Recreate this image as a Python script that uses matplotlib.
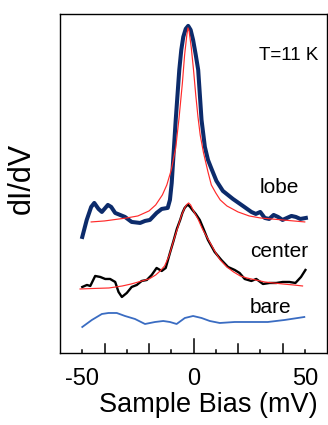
import matplotlib
matplotlib.use('Agg')
import matplotlib.pyplot as plt
import matplotlib.transforms as mtransforms

plt.rcParams['font.family'] = ['Liberation Sans', 'DejaVu Sans']

# dI/dV spectra (arbitrary units, curves offset vertically)
lobe_x = [-50, -48, -46, -44.6, -42.7, -41.2, -38.5, -37, -35.2, -33, -30.8, -27.8,
          -24, -21.8, -19.6, -16.6, -14.3, -11.6, -10.6, -9.8, -8, -6.4, -5.5, -4.6,
          -3.5, -2.4, -1.3, -0.2, 1, 2.1, 3.6, 5.1, 6.5, 8.1, 10.3, 13.2, 17.7, 22.2,
          26, 28, 30, 32, 34, 36, 38, 40, 42, 44, 46, 48, 50.5]
lobe_y = [116, 133, 146, 150, 144, 141, 148, 146, 140, 138, 136, 131,
          130, 132, 133, 140, 144, 145, 153, 170, 233, 283, 303, 316,
          324, 327, 323, 313, 298, 283, 233, 206, 193, 184, 172, 162, 154, 147,
          141, 139, 141, 135, 134, 138, 136, 133, 135, 137, 136, 134, 135]

lobe_fit_x = [-46, -40, -35, -30, -25, -20, -17, -14, -12, -10, -8, -6.5, -5, -4,
              -3, -2.5, -2, -1, 0, 1, 2, 3, 4.5, 6.5, 8, 10, 12, 15, 20, 25, 30,
              35, 40, 45, 50]
lobe_fit_y = [131, 132, 133.5, 135, 137, 142, 148, 158, 168, 183, 205, 235, 270, 298,
              318, 325, 322, 305, 283, 258, 236, 218, 200, 181, 168, 160, 153, 147,
              141, 137, 135, 134, 133, 132, 131]

center_x = [-50, -47.9, -46.4, -44.2, -41.9, -39.7, -37.5, -35.2, -33.7, -32.2, -30,
            -27.8, -25.5, -23.3, -21, -18.8, -16.6, -14.3, -12.5, -10.6, -9, -7.5,
            -6, -5, -4, -3, -2.4, -1.5, -0.5, 1, 2.8, 4.5, 6.5, 9.5, 12.5, 15.5, 18.5,
            20.7, 23, 26, 28.2, 31.2, 34.2, 37.2, 40.1, 43.1, 45.8, 48.3, 50.3]
center_y = [66, 68, 67, 77, 76, 74, 74, 71, 61, 56, 60,
            66, 68, 72, 73, 78, 85, 82, 85, 100, 112, 124,
            133, 140, 145, 147.5, 148, 146, 143, 139, 133, 124, 113, 101, 93, 86, 83,
            80, 74, 72, 74, 69, 70, 70, 71, 71, 70, 76, 83]

center_fit_x = [-51, -45, -38, -32, -28, -24, -20, -17, -15, -13, -11, -9, -7, -5.5,
                -4, -3, -2.2, -1.3, 0, 2, 4, 6, 8, 10, 12, 15, 18, 21, 24, 28, 32,
                36, 40, 45, 49]
center_fit_y = [64, 64.5, 65, 67, 69, 71.5, 74, 78, 82, 87, 97, 112, 126, 137,
                145, 148.5, 150, 148, 142, 134, 124, 116, 108, 100, 93, 86, 81, 77,
                75, 73, 71, 70, 69, 68, 67]

bare_x = [-50, -45.7, -41.2, -38.2, -34.5, -30.8, -26.3, -21.8, -17.3, -13.6, -10.6,
          -7.6, -3.9, -0.2, 3.6, 7.3, 11.8, 18.5, 26, 33.4, 40.9, 49.8]
bare_y = [26, 33, 39, 40, 40, 37, 34, 29, 31, 32, 31,
          29, 35, 37, 35, 32, 30, 31, 31, 31, 33, 36]

# curve names, placed above each spectrum (axes fractions)
curve_labels = ['lobe', 'center', 'bare']
label_x = [0.82, 0.82, 0.79]
label_y = [0.472, 0.283, 0.118]

# bottom-axis tick marks: position and length (px)
tick_pos = [-50, -40, -30, -20, -10, 0, 10, 20, 30, 40, 50]
tick_len = [3.5, 9, 3.5, 9, 3.5, 14, 3.5, 9, 3.5, 9, 3.5]

fig = plt.figure(figsize=(3.28, 4.25), dpi=100)
ax = fig.add_axes([0.183, 0.1694, 0.814, 0.798])

ax.plot(lobe_x, lobe_y, color='#0c2b6b', lw=2.9)
ax.plot(center_x, center_y, color='black', lw=1.7)
ax.plot(bare_x, bare_y, color='#3a6cc2', lw=1.3)
# fits on top
ax.plot(lobe_fit_x, lobe_fit_y, color='#ff2a2a', lw=0.85)
ax.plot(center_fit_x, center_fit_y, color='#ff2a2a', lw=0.85)

ax.set_xlim(-60, 60)
ax.set_ylim(0, 339)
ax.set_yticks([])
ax.set_xticks([-50, 0, 50])
ax.set_xticklabels(['-50', '0', '50'], fontsize=17)
ax.tick_params(axis='x', length=0, pad=11)

# inward ticks of different lengths
trans = mtransforms.blended_transform_factory(ax.transData, ax.transAxes)
for xp, ln in zip(tick_pos, tick_len):
    ax.plot([xp, xp], [0, ln / 339], color='black', lw=1.1, transform=trans,
            clip_on=False)

for sp in ax.spines.values():
    sp.set_linewidth(1.0)

ax.set_xlabel('Sample Bias (mV)', fontsize=19.5)
ax.xaxis.set_label_coords(0.554, -0.115)
ax.set_ylabel('dI/dV', fontsize=22)
ax.yaxis.set_label_coords(-0.088, 0.516)

ax.text(0.745, 0.877, 'T=11 K', transform=ax.transAxes, fontsize=13.5,
        ha='left', va='center')
for s, xa, ya in zip(curve_labels, label_x, label_y):
    ax.text(xa, ya, s, transform=ax.transAxes, fontsize=15, ha='center',
            va='baseline')

fig.savefig('out.png', dpi=100)
